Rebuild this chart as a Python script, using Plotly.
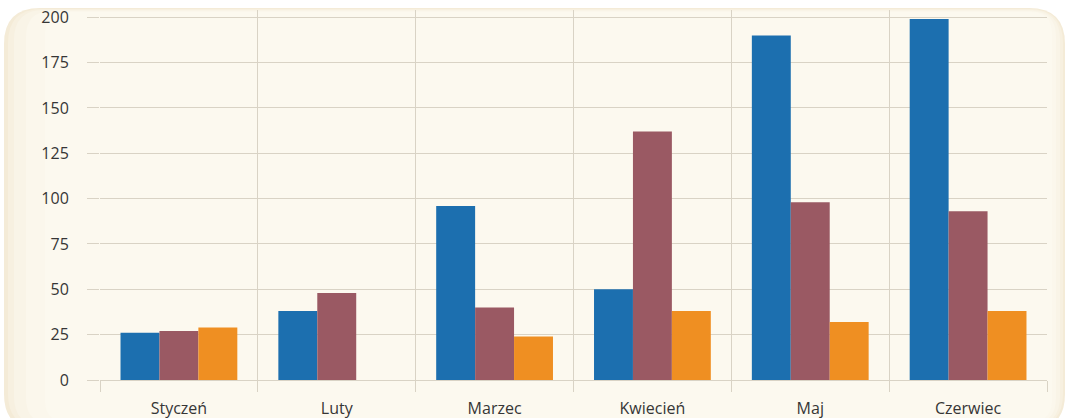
import plotly.graph_objects as go

months = ["Styczeń", "Luty", "Marzec", "Kwiecień", "Maj", "Czerwiec"]
series_blue = [26, 38, 96, 50, 190, 199]
series_mauve = [27, 48, 40, 137, 98, 93]
series_orange = [29, None, 24, 38, 32, 38]
y_ticks = [0, 25, 50, 75, 100, 125, 150, 175, 200]

colors = ["#1C6FAF", "#9A5963", "#EF8F22"]

W, H = 1069, 418
L, R, T, B = 100, 22, 10, 38
pw, ph = W - L - R, H - T - B


def px2paper(x, y):
    return (x - L) / pw, (H - B - y) / ph


def rounded(x0, y0, x1, y1, r):
    def P(x, y):
        a, b = px2paper(x, y)
        return f"{a:.5f},{b:.5f}"
    return (f"M {P(x0 + r, y0)} L {P(x1 - r, y0)} Q {P(x1, y0)} {P(x1, y0 + r)} "
            f"L {P(x1, y1 - r)} Q {P(x1, y1)} {P(x1 - r, y1)} "
            f"L {P(x0 + r, y1)} Q {P(x0, y1)} {P(x0, y1 - r)} "
            f"L {P(x0, y0 + r)} Q {P(x0, y0)} {P(x0 + r, y0)} Z")


shapes = []
layers = [
    (4, 8, 1065, 430, 36, "#F4EBD7"),
    (8, 9, 1063, 428, 34, "#F7F0E0"),
    (14, 10, 1060, 426, 30, "#F9F4E7"),
    (26, 11, 1056, 424, 26, "#FBF7EC"),
    (45, 12, 1052, 422, 22, "#FCF9EF"),
]
for x0, y0, x1, y1, r, c in layers:
    shapes.append(dict(type="path", xref="paper", yref="paper",
                       path=rounded(x0, y0, x1, y1, r),
                       fillcolor=c, line=dict(width=0), layer="below"))

fig = go.Figure()
for vals, c in zip([series_blue, series_mauve, series_orange], colors):
    fig.add_trace(go.Bar(x=months, y=vals, marker=dict(color=c, line=dict(width=0)),
                         showlegend=False))

fig.update_layout(
    width=W, height=H,
    margin=dict(l=L, r=R, t=T, b=B, pad=0, autoexpand=False),
    paper_bgcolor="white",
    plot_bgcolor="rgba(0,0,0,0)",
    barmode="group",
    bargap=0.26,
    bargroupgap=0,
    shapes=shapes,
    font=dict(family="Open Sans", size=16, color="#363636"),
    xaxis=dict(
        type="category",
        range=[-0.5, 5.5],
        tickson="boundaries",
        automargin=False,
        showgrid=True,
        gridcolor="#D9D3C5",
        gridwidth=1,
        ticks="outside",
        ticklen=11,
        tickcolor="#D9D3C5",
        showline=False,
        zeroline=False,
        tickfont=dict(size=16, color="#363636"),
        ticklabelstandoff=17,
    ),
    yaxis=dict(
        range=[0, 204],
        tickvals=y_ticks,
        automargin=False,
        showgrid=True,
        gridcolor="#D9D3C5",
        gridwidth=1,
        ticks="outside",
        ticklen=12,
        tickcolor="#D9D3C5",
        showline=False,
        zeroline=True,
        zerolinecolor="#D9D3C5",
        zerolinewidth=1,
        tickfont=dict(size=16, color="#363636"),
        ticklabelstandoff=15,
    ),
)

fig.write_html("out.html")
